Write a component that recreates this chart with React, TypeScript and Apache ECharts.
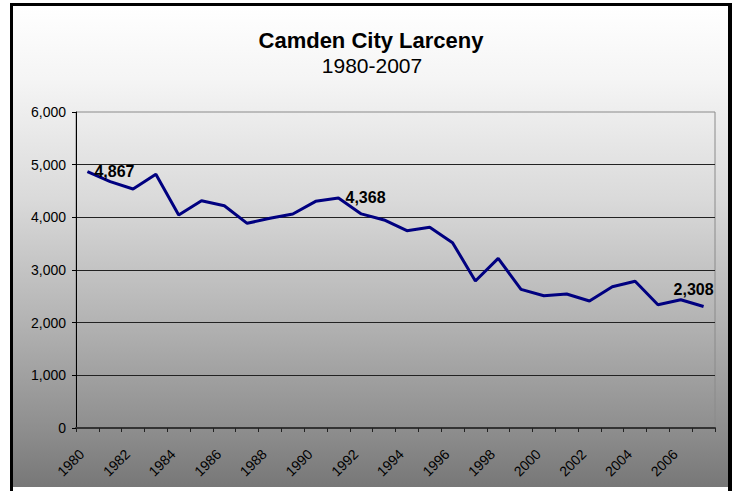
import React, { useEffect, useRef } from "react";
import * as echarts from "echarts";

const years: string[] = [
  "1980", "1981", "1982", "1983", "1984", "1985", "1986", "1987", "1988", "1989",
  "1990", "1991", "1992", "1993", "1994", "1995", "1996", "1997", "1998", "1999",
  "2000", "2001", "2002", "2003", "2004", "2005", "2006", "2007",
];

const larceny: number[] = [
  4867, 4677, 4538, 4817, 4044, 4316, 4221, 3886, 3981, 4063,
  4304, 4368, 4065, 3950, 3746, 3810, 3519, 2791, 3221, 2633,
  2512, 2544, 2411, 2683, 2785, 2341, 2436, 2308,
];

const labelledYears: string[] = ["1980", "1991", "2007"];

const titleText = "Camden City Larceny";
const subtitleText = "1980-2007";

const FONT = "'Liberation Sans', Arial, sans-serif";

export default function App() {
  const ref = useRef<HTMLDivElement | null>(null);

  useEffect(() => {
    if (!ref.current) return;
    const chart = echarts.init(ref.current, undefined, { renderer: "svg" });

    const fmt = (v: number) => v.toLocaleString("en-US");

    const data = larceny.map((v, i) => {
      const y = years[i];
      if (!labelledYears.includes(y)) return v;
      const isLast = i === years.length - 1;
      return {
        value: v,
        label: isLast
          ? { show: true, position: "top", distance: 9, offset: [-10, 0] }
          : { show: true, position: "right", distance: 7 },
      };
    });

    chart.setOption({
      animation: false,
      backgroundColor: "transparent",
      textStyle: { fontFamily: FONT },
      graphic: [
        {
          type: "text",
          x: 371,
          y: 40,
          style: {
            text: titleText,
            font: `bold 22px ${FONT}`,
            fill: "#000",
            textAlign: "center",
            textVerticalAlign: "middle",
          },
        },
        {
          type: "text",
          x: 372,
          y: 65,
          style: {
            text: subtitleText,
            font: `21px ${FONT}`,
            fill: "#000",
            textAlign: "center",
            textVerticalAlign: "middle",
          },
        },
      ],
      grid: {
        left: 76,
        right: 20,
        top: 112,
        bottom: 63,
        show: true,
        borderColor: "#8a8a8a",
        borderWidth: 1,
        backgroundColor: "transparent",
      },
      xAxis: {
        type: "category",
        data: years,
        boundaryGap: true,
        axisLine: { show: true, lineStyle: { color: "#333", width: 2 } },
        axisTick: {
          show: true,
          interval: 0,
          alignWithLabel: false,
          length: 4,
          lineStyle: { color: "#222", width: 1 },
        },
        axisLabel: {
          interval: 1,
          rotate: 45,
          margin: 18,
          padding: [0, 8, 0, 0],
          fontSize: 14,
          color: "#000",
          fontFamily: FONT,
        },
        splitLine: { show: false },
      },
      yAxis: {
        type: "value",
        min: 0,
        max: 6000,
        interval: 1000,
        axisLine: { show: true, lineStyle: { color: "#000", width: 1 } },
        axisTick: { show: true, length: 4, lineStyle: { color: "#000" } },
        axisLabel: {
          formatter: (v: number) => fmt(v),
          fontSize: 14,
          color: "#000",
          margin: 10,
          fontFamily: FONT,
        },
        splitLine: {
          show: true,
          showMinLine: false,
          showMaxLine: false,
          lineStyle: { color: "#222", width: 1 },
        },
      },
      series: [
        {
          type: "line",
          data,
          symbol: "circle",
          symbolSize: 0.1,
          showSymbol: true,
          lineStyle: { color: "#000080", width: 3 },
          itemStyle: { color: "#000080" },
          label: {
            show: false,
            formatter: (p: any) => fmt(p.value),
            fontSize: 16,
            fontWeight: "bold",
            color: "#000",
            fontFamily: FONT,
          },
        },
      ],
    });

    return () => chart.dispose();
  }, []);

  return (
    <div
      style={{
        position: "fixed",
        left: 0,
        top: 0,
        width: 735,
        height: 491,
        background: "#fff",
        overflow: "hidden",
      }}
    >
      <div
        style={{
          position: "absolute",
          left: 10,
          top: 3,
          width: 722,
          height: 500,
          boxSizing: "border-box",
          borderTop: "3px solid #000",
          borderLeft: "3px solid #000",
          borderRight: "4px solid #000",
          background: "#fff",
        }}
      >
        <div
          style={{
            position: "absolute",
            left: 0,
            top: 0,
            right: 0,
            height: 481,
            background:
              "linear-gradient(to bottom, #ffffff 0%, #f5f5f5 15%, #dadada 40%, #b4b4b4 65%, #8e8e8e 88%, #777777 100%)",
          }}
        />
      </div>
      <div
        ref={ref}
        style={{ position: "absolute", left: 0, top: 0, width: 735, height: 491 }}
      />
    </div>
  );
}
